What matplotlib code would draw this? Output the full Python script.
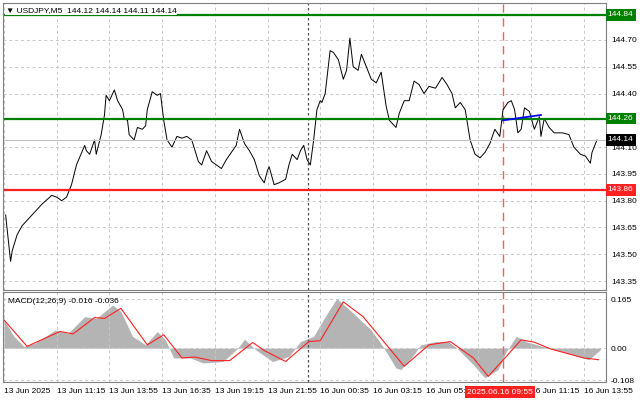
import numpy as np
import matplotlib.pyplot as plt

# USDJPY M5, bar index vs close
bars = [1, 4, 5, 8, 11, 17, 23, 29, 32, 35, 38, 41, 44, 49, 50, 52, 55, 56, 59, 61, 62, 64, 67, 69,
        72, 73, 75, 76, 79, 81, 84, 86, 87, 90, 93, 95, 97, 99, 102, 105, 108, 111, 114, 116, 118,
        120, 123, 126, 129, 132, 135, 138, 141, 143, 146, 149, 152, 155, 158, 160, 161, 164, 167,
        171, 173, 175, 178, 180, 182, 184, 186, 188, 190, 192, 193, 195, 198, 200, 203, 206, 208,
        210, 212, 215, 217, 223, 226, 229, 232, 234, 238, 240, 243, 246, 249, 252, 255, 258, 262,
        266, 269, 272, 274, 277, 280, 283, 286, 289, 292, 295, 298, 301, 303, 306, 308, 310, 312,
        314, 316, 319, 322, 325, 326, 328, 331, 334, 339, 343, 346, 350, 353, 356, 357, 360]
close = [143.72, 143.46, 143.52, 143.61, 143.66, 143.72, 143.78, 143.83, 143.82, 143.80, 143.82,
         143.89, 144.00, 144.11, 144.08, 144.06, 144.14, 144.06, 144.17, 144.28, 144.39, 144.36,
         144.42, 144.36, 144.31, 144.26, 144.25, 144.17, 144.14, 144.21, 144.20, 144.22, 144.31,
         144.41, 144.39, 144.40, 144.25, 144.14, 144.10, 144.16, 144.15, 144.16, 144.14, 144.08,
         144.02, 144.00, 144.08, 144.02, 144.00, 143.98, 144.03, 144.07, 144.11, 144.20, 144.12,
         144.08, 144.03, 143.94, 143.90, 143.97, 143.99, 143.89, 143.90, 143.92, 144.00, 144.06,
         144.03, 144.08, 144.11, 144.03, 144.00, 144.14, 144.31, 144.36, 144.35, 144.40, 144.64,
         144.63, 144.59, 144.48, 144.53, 144.71, 144.55, 144.53, 144.62, 144.48, 144.46, 144.52,
         144.33, 144.25, 144.21, 144.29, 144.36, 144.36, 144.47, 144.45, 144.40, 144.44, 144.43,
         144.49, 144.45, 144.40, 144.32, 144.35, 144.31, 144.14, 144.06, 144.04, 144.07, 144.12,
         144.20, 144.16, 144.31, 144.35, 144.36, 144.31, 144.18, 144.20, 144.32, 144.30, 144.20,
         144.27, 144.16, 144.26, 144.21, 144.18, 144.18, 144.17, 144.10, 144.06, 144.05, 144.01,
         144.07, 144.14]

hist_bars = [0, 6, 12, 19, 31, 39, 49, 56, 66, 71, 78, 86, 93, 98, 103, 113, 121, 133, 142, 146,
             153, 163, 173, 180, 188, 195, 202, 210, 223, 230, 238, 241, 248, 253, 262, 270, 275,
             285, 292, 300, 305, 311, 317, 327, 342, 355, 362]
hist_vals = [0.095, 0.040, 0.006, 0.017, 0.061, 0.050, 0.106, 0.100, 0.145, 0.123, 0.040, 0.011,
             0.056, 0.028, -0.033, -0.033, -0.050, -0.045, 0.000, 0.030, -0.006, -0.045, -0.028,
             0.022, 0.040, 0.106, 0.167, 0.128, 0.061, 0.006, -0.067, -0.072, -0.028, 0.011,
             0.022, 0.022, 0.000, -0.056, -0.100, -0.072, -0.011, 0.040, 0.022, 0.006, -0.017,
             -0.039, -0.006]
sig_bars = [0, 14, 34, 42, 55, 61, 71, 87, 97, 108, 116, 126, 137, 151, 158, 171, 185, 192, 206,
            218, 243, 258, 271, 285, 294, 305, 314, 322, 332, 352, 361]
sig_vals = [0.095, 0.006, 0.056, 0.048, 0.103, 0.100, 0.134, 0.011, 0.045, -0.033, -0.030, -0.042,
            -0.042, 0.019, -0.008, -0.045, 0.022, 0.025, 0.156, 0.106, -0.061, 0.011, 0.022,
            -0.033, -0.095, -0.028, 0.028, 0.020, -0.003, -0.033, -0.039]

price_ticks = [144.70, 144.55, 144.40, 144.10, 143.95, 143.80, 143.65, 143.50, 143.35]
time_labels = ["13 Jun 2025", "13 Jun 11:15", "13 Jun 13:55", "13 Jun 16:35", "13 Jun 19:15",
               "13 Jun 21:55", "16 Jun 00:35", "16 Jun 03:15", "16 Jun 05:55", "16 Jun 08:35",
               "16 Jun 11:15", "16 Jun 13:55"]
resist_hi, resist_lo, support = 144.84, 144.26, 143.86
last = 144.14
day_break, signal_bar = 184.5, 303

W, H = 640, 401
plt.rcParams['font.family'] = 'Liberation Sans'
fig = plt.figure(figsize=(6.4, 4.01), dpi=100)
fs = 6.0
xmin, xmax = -0.6, 365.5

ax = fig.add_axes([3 / W, 1 - 290 / H, 603 / W, 287 / H])
ax2 = fig.add_axes([3 / W, 1 - 382 / H, 603 / W, 90 / H])

for a in (ax, ax2):
    a.set_xlim(xmin, xmax)
    a.set_xticks(np.arange(0, 365, 32))
    a.grid(True, color='#c8c8c8', linestyle=(0, (3, 3)), linewidth=0.7)
    a.tick_params(length=0, labelsize=fs)
    a.yaxis.tick_right()
    for s in a.spines.values():
        s.set_color('#808080')
    a.axvline(day_break, color='#505050', linestyle=(0, (2, 2)), linewidth=0.9)
    a.axvline(signal_bar, color='#f06060', linestyle=(0, (6, 4)), linewidth=1.0)

ax.set_ylim(143.30, 144.907)
ax.set_yticks(price_ticks)
ax.set_yticklabels([f"{t:.2f}" for t in price_ticks])
ax.set_xticklabels([])
ax.plot(bars, close, color='black', linewidth=0.7)
ax.axhline(last, color='#c0c0c0', linewidth=0.8)
ax.axhline(resist_hi, color='#008000', linewidth=1.6)
ax.axhline(resist_lo, color='#008000', linewidth=1.6)
ax.axhline(support, color='#ff2020', linewidth=1.6)
ax.plot([signal_bar, 326], [144.25, 144.28], color='#0000ff', linewidth=1.3)
for val, fc in [(resist_hi, '#008000'), (resist_lo, '#008000'), (last, 'black'), (support, '#ff2020')]:
    ax.text(1.003, val, f"{val:.2f}", transform=ax.get_yaxis_transform(), fontsize=fs,
            color='white', va='center', ha='left',
            bbox=dict(boxstyle='square,pad=0.25', fc=fc, ec='none'))
ax.text(0.005, 0.985, "▼ USDJPY,M5  144.12 144.14 144.11 144.14", transform=ax.transAxes,
        fontsize=fs, va='top', ha='left', family=['Liberation Sans', 'DejaVu Sans'],
        bbox=dict(fc='white', ec='none', pad=0.5))

ax2.set_ylim(-0.114, 0.189)
ax2.set_yticks([0.165, 0.0, -0.108])
ax2.set_yticklabels(["0.165", "0.00", "-0.108"])
ax2.fill_between(hist_bars, hist_vals, 0, color='#b4b4b4', linewidth=0)
ax2.plot(sig_bars, sig_vals, color='#ff2020', linewidth=0.8)
ax2.set_xticklabels(time_labels, ha='left', fontsize=fs)
ax2.tick_params(axis='x', pad=4)
ax2.text(0.008, 0.93, "MACD(12,26,9) -0.016 -0.036", transform=ax2.transAxes,
         fontsize=fs, va='top', ha='left')

# red time marker drawn at figure level so it covers the axis labels below it
fig.text(500 / W, 1 - 392 / H, "2025.06.16 09:55", fontsize=fs, color='white', ha='center',
         va='center', zorder=10, bbox=dict(boxstyle='square,pad=0.3', fc='#ff2020', ec='none'))

fig.savefig("out.png", dpi=100)
